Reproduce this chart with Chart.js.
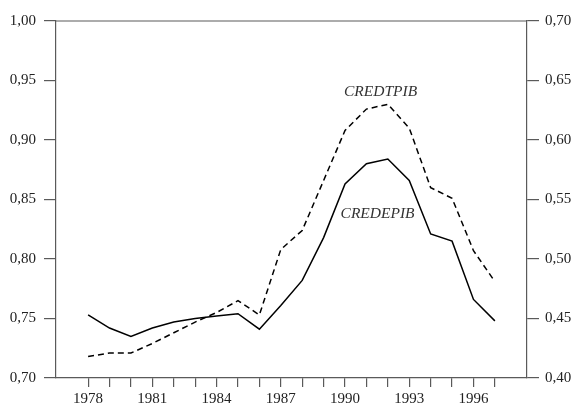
<!DOCTYPE html>
<html>
<head>
<meta charset="utf-8">
<script src="https://cdn.jsdelivr.net/npm/chart.js@4"></script>
<style>
  html, body { margin: 0; padding: 0; background: #fff; }
  #wrap { width: 575px; height: 403px; }
</style>
</head>
<body>
<div id="wrap"><canvas id="c" width="575" height="403"></canvas></div>
<script>
const years = [1978,1979,1980,1981,1982,1983,1984,1985,1986,1987,1988,1989,1990,1991,1992,1993,1994,1995,1996,1997];
// CREDEPIB (left axis)
const credepib = [0.753,0.742,0.735,0.742,0.747,0.750,0.752,0.754,0.741,0.761,0.782,0.818,0.863,0.880,0.884,0.866,0.821,0.815,0.766,0.748];
// CREDTPIB (right axis)
const credtpib = [0.418,0.421,0.421,0.429,0.438,0.447,0.455,0.465,0.453,0.508,0.524,0.566,0.608,0.626,0.630,0.610,0.560,0.551,0.507,0.481];
const leftTicks = [0.70,0.75,0.80,0.85,0.90,0.95,1.00];
const rightTicks = [0.40,0.45,0.50,0.55,0.60,0.65,0.70];
const xLabelYears = [1978,1981,1984,1987,1990,1993,1996];
const seriesLabels = [
  {text: 'CREDTPIB', x: 1991.66, y: 0.940},
  {text: 'CREDEPIB', x: 1991.52, y: 0.838}
];

const fmt = v => v.toFixed(2).replace('.', ',');
const axisColor = '#5a5a5a';
const font = {family: '"Liberation Serif", "DejaVu Serif", serif', size: 15};

const framePlugin = {
  id: 'frame',
  afterDraw(chart) {
    const {ctx, chartArea} = chart;
    ctx.save();
    ctx.strokeStyle = axisColor;
    ctx.lineWidth = 1.2;
    ctx.beginPath();
    ctx.moveTo(chartArea.left, chartArea.top);
    ctx.lineTo(chartArea.right, chartArea.top);
    ctx.stroke();
    const xs = chart.scales.x, ys = chart.scales.y;
    ctx.fillStyle = '#333';
    ctx.font = 'italic 15.5px "Liberation Serif", "DejaVu Serif", serif';
    ctx.textAlign = 'center';
    ctx.textBaseline = 'middle';
    seriesLabels.forEach(l => {
      ctx.fillText(l.text, xs.getPixelForValue(l.x), ys.getPixelForValue(l.y));
    });
    ctx.restore();
  }
};

new Chart(document.getElementById('c'), {
  type: 'line',
  data: {
    datasets: [
      {
        label: 'CREDEPIB',
        data: years.map((y, i) => ({x: y, y: credepib[i]})),
        yAxisID: 'y',
        borderColor: '#000',
        borderWidth: 1.5,
        pointRadius: 0,
        tension: 0,
        fill: false
      },
      {
        label: 'CREDTPIB',
        data: years.map((y, i) => ({x: y, y: credtpib[i]})),
        yAxisID: 'y1',
        borderColor: '#000',
        borderWidth: 1.5,
        borderDash: [6, 4],
        pointRadius: 0,
        tension: 0,
        fill: false
      }
    ]
  },
  options: {
    responsive: false,
    animation: false,
    devicePixelRatio: 1,
    layout: {padding: {top: 21, left: 0, right: 0, bottom: 0}},
    plugins: {legend: {display: false}, tooltip: {enabled: false}},
    scales: {
      x: {
        type: 'linear',
        min: 1976.5,
        max: 1998.5,
        afterBuildTicks: s => { s.ticks = years.map(v => ({value: v})); },
        afterFit: s => { s.height = 25; },
        ticks: {
          autoSkip: false,
          maxRotation: 0,
          padding: 3,
          color: '#222',
          font: font,
          callback: v => xLabelYears.includes(v) ? String(v) : ''
        },
        grid: {drawOnChartArea: false, drawTicks: true, tickLength: 9, color: axisColor, lineWidth: 1.2},
        border: {display: true, color: axisColor, width: 1.2}
      },
      y: {
        position: 'left',
        min: 0.70,
        max: 1.00,
        afterBuildTicks: s => { s.ticks = leftTicks.map(v => ({value: v})); },
        afterFit: s => { s.width = 56; },
        ticks: {padding: 8, color: '#222', font: font, callback: v => fmt(v)},
        grid: {drawOnChartArea: false, drawTicks: true, tickLength: 12, color: axisColor, lineWidth: 1.2},
        border: {display: true, color: axisColor, width: 1.2}
      },
      y1: {
        position: 'right',
        min: 0.40,
        max: 0.70,
        afterBuildTicks: s => { s.ticks = rightTicks.map(v => ({value: v})); },
        afterFit: s => { s.width = 48; },
        ticks: {padding: 6, color: '#222', font: font, callback: v => fmt(v)},
        grid: {drawOnChartArea: false, drawTicks: true, tickLength: 12, color: axisColor, lineWidth: 1.2},
        border: {display: true, color: axisColor, width: 1.2}
      }
    }
  },
  plugins: [framePlugin]
});
</script>
</body>
</html>
